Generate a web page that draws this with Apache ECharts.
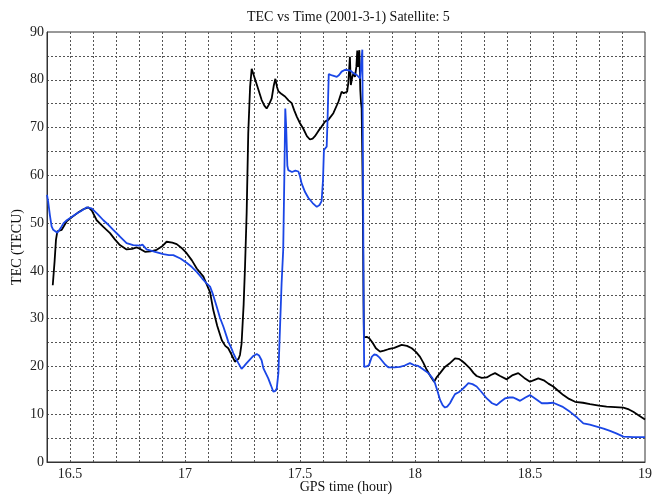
<!DOCTYPE html>
<html>
<head>
<meta charset="utf-8">
<script src="https://cdn.jsdelivr.net/npm/echarts@6/dist/echarts.min.js"></script>
<style>html,body{margin:0;padding:0;background:#fff;}#c{width:660px;height:496px;}</style>
</head>
<body>
<div id="c"></div>
<script>
const titleText = 'TEC vs Time (2001-3-1) Satellite: 5';
const xName = 'GPS time (hour)';
const yName = 'TEC (TECU)';
const xTickLabels = ['16.5','17','17.5','18','18.5','19'];
const yTickLabels = ['0','10','20','30','40','50','60','70','80','90'];

const blackX = [16.425,16.428,16.433,16.439,16.445,16.464,16.486,16.51,16.535,16.558,16.58,16.595,16.616,16.645,16.674,16.695,16.717,16.746,16.77,16.79,16.805,16.826,16.85,16.877,16.899,16.92,16.945,16.964,16.985,17.007,17.03,17.051,17.08,17.094,17.109,17.123,17.14,17.16,17.175,17.188,17.2,17.217,17.225,17.233,17.239,17.246,17.255,17.261,17.268,17.275,17.283,17.29,17.3,17.312,17.322,17.333,17.345,17.355,17.366,17.377,17.386,17.393,17.4,17.406,17.42,17.435,17.45,17.464,17.475,17.486,17.5,17.514,17.53,17.543,17.555,17.565,17.58,17.594,17.61,17.623,17.645,17.667,17.681,17.69,17.696,17.705,17.71,17.717,17.721,17.727,17.733,17.739,17.745,17.749,17.753,17.758,17.762,17.765,17.768,17.772,17.776,17.778,17.79,17.801,17.815,17.83,17.848,17.865,17.884,17.91,17.942,17.965,17.986,18.005,18.022,18.036,18.051,18.068,18.083,18.095,18.109,18.13,18.15,18.174,18.19,18.203,18.22,18.239,18.255,18.268,18.29,18.312,18.33,18.348,18.37,18.399,18.425,18.449,18.475,18.5,18.52,18.536,18.56,18.58,18.601,18.625,18.645,18.67,18.696,18.73,18.761,18.8,18.833,18.87,18.906,18.93,18.949,18.975,19.0];
const blackY = [37.0,36.6,42,46.5,48.3,48.6,50.4,51.3,52.2,52.9,53.3,52.6,50.6,49.2,47.9,46.6,45.4,44.5,44.6,44.9,44.6,44.0,44.1,44.4,45.1,46.1,45.9,45.6,44.8,43.7,42.2,40.5,38.8,37.2,35.5,31.8,28.5,25.5,24.3,23.8,22.7,21.0,20.8,21.6,22.4,24.8,33,40.9,52,68.8,78.5,82.3,80.8,79.0,77.5,75.8,74.6,74.0,74.9,76.1,78.8,80.2,78.5,77.6,77.0,76.5,75.7,75.1,73.6,72.3,70.9,69.8,68.2,67.5,67.7,68.2,69.3,70.2,71.3,71.6,73.0,75.4,77.5,77.2,76.8,77.5,79.3,84.8,78.9,80.5,81.4,80.6,82.7,86.1,82.7,86.2,78.0,75.4,74.0,60,35,26.1,26.2,25.9,25.0,23.8,23.1,23.3,23.6,23.9,24.5,24.3,23.8,23.0,22.0,20.8,19.3,17.9,16.8,17.8,18.6,19.9,20.6,21.7,21.6,21.2,20.5,19.6,18.6,18.0,17.6,17.7,18.2,18.6,18.0,17.3,18.2,18.6,17.6,16.8,17.2,17.5,17.1,16.4,15.8,14.8,14.0,13.2,12.6,12.4,12.1,11.8,11.6,11.5,11.4,11.0,10.5,9.7,8.9];

const blueX = [16.400,16.405,16.413,16.42,16.427,16.435,16.445,16.46,16.472,16.486,16.507,16.529,16.55,16.573,16.594,16.62,16.645,16.668,16.688,16.715,16.746,16.775,16.804,16.815,16.833,16.87,16.906,16.93,16.949,16.98,17.007,17.03,17.051,17.075,17.094,17.109,17.12,17.138,17.152,17.167,17.18,17.188,17.2,17.21,17.222,17.232,17.246,17.256,17.268,17.285,17.297,17.312,17.322,17.333,17.341,17.352,17.362,17.374,17.384,17.393,17.399,17.406,17.413,17.42,17.427,17.432,17.436,17.44,17.445,17.449,17.465,17.48,17.493,17.5,17.507,17.522,17.536,17.555,17.573,17.585,17.594,17.6,17.604,17.616,17.62,17.625,17.64,17.66,17.67,17.681,17.696,17.703,17.72,17.732,17.747,17.761,17.768,17.771,17.774,17.777,17.779,17.79,17.8,17.812,17.822,17.833,17.845,17.855,17.87,17.884,17.91,17.935,17.955,17.978,17.995,18.014,18.035,18.058,18.075,18.087,18.098,18.109,18.12,18.13,18.14,18.152,18.163,18.174,18.19,18.203,18.218,18.232,18.25,18.268,18.29,18.312,18.335,18.355,18.372,18.391,18.41,18.427,18.44,18.457,18.48,18.5,18.525,18.551,18.575,18.601,18.64,18.674,18.705,18.732,18.76,18.79,18.82,18.848,18.875,18.906,18.95,19.0];
const blueY = [55.9,54.5,51.5,49.3,48.6,48.9,48.0,49.0,50.0,50.6,51.3,52.0,52.6,53.3,53.1,51.9,50.6,49.6,48.6,47.3,45.8,45.4,45.3,45.5,44.5,44.0,43.5,43.3,43.3,42.6,41.7,40.8,39.8,38.4,37.4,36.7,35.3,32.5,30.2,28.3,26.4,25.2,24.0,22.8,21.6,20.7,19.5,20.0,20.7,21.6,22.2,22.6,22.3,21.3,19.6,18.5,17.5,16.0,14.7,14.9,15.4,18.6,28,37.4,44.4,60,74.0,70,62,61.1,60.7,61.0,60.8,59.8,58.3,56.5,55.3,54.2,53.4,53.8,54.6,59,65.3,66.0,72,81.2,80.9,80.6,81.0,81.7,82.1,82.2,81.9,81.4,81.0,80.3,80.0,86.3,60,30,19.9,20.0,20.3,22.0,22.5,22.4,21.9,21.3,20.4,19.8,19.8,19.9,20.2,20.7,20.3,20.1,19.4,18.6,17.6,16.5,14.8,13.0,11.9,11.4,11.6,12.3,13.3,14.2,14.6,15.1,15.8,16.5,16.3,15.8,14.6,13.3,12.3,11.9,12.6,13.3,13.5,13.5,13.2,12.8,13.5,14.0,13.2,12.3,12.3,12.4,11.6,10.5,9.3,8.1,7.8,7.4,7.0,6.5,6.0,5.3,5.2,5.2];

const zip = (xs, ys) => xs.map((x, i) => [x, ys[i]]);
const serif = 'Liberation Serif';
const gridLine = { show: true, lineStyle: { color: '#555', type: [2, 2], width: 1 }, showMinLine: false, showMaxLine: false };

const chart = echarts.init(document.getElementById('c'), null, { renderer: 'canvas' });
chart.setOption({
  animation: false,
  backgroundColor: '#fff',
  title: {
    text: titleText, left: 242, top: 5,
    textStyle: { fontFamily: serif, fontSize: 14, fontWeight: 'normal', color: '#111' }
  },
  grid: { left: 47, right: 15, top: 32, bottom: 34, show: true, borderColor: '#333', borderWidth: 1, containLabel: false, outerBoundsMode: 'none' },
  xAxis: {
    type: 'value', min: 16.4, max: 19, interval: 0.1,
    name: xName, nameLocation: 'middle', nameGap: 18, nameMoveOverlap: false,
    nameTextStyle: { fontFamily: serif, fontSize: 14, color: '#111' },
    axisLine: { show: true, lineStyle: { color: '#333' } },
    axisTick: { show: false },
    axisLabel: {
      fontFamily: serif, fontSize: 14, color: '#222', margin: 5,
      formatter: v => { const s = String(Math.round(v * 10) / 10); return xTickLabels.includes(s) ? s : ''; }
    },
    splitLine: gridLine
  },
  yAxis: {
    type: 'value', min: 0, max: 90, interval: 5,
    name: yName, nameLocation: 'middle', nameGap: 23, nameMoveOverlap: false,
    nameTextStyle: { fontFamily: serif, fontSize: 14, color: '#111' },
    axisLine: { show: true, lineStyle: { color: '#333' } },
    axisTick: { show: false },
    axisLabel: {
      fontFamily: serif, fontSize: 14, color: '#222', margin: 3,
      formatter: v => { const s = String(Math.round(v)); return yTickLabels.includes(s) ? s : ''; }
    },
    splitLine: gridLine
  },
  series: [
    { type: 'line', data: zip(blackX, blackY), showSymbol: false, lineStyle: { color: '#000', width: 1.8 }, z: 2 },
    { type: 'line', data: zip(blueX, blueY), showSymbol: false, lineStyle: { color: '#1a46e6', width: 1.8 }, z: 3 }
  ]
});
</script>
</body>
</html>
